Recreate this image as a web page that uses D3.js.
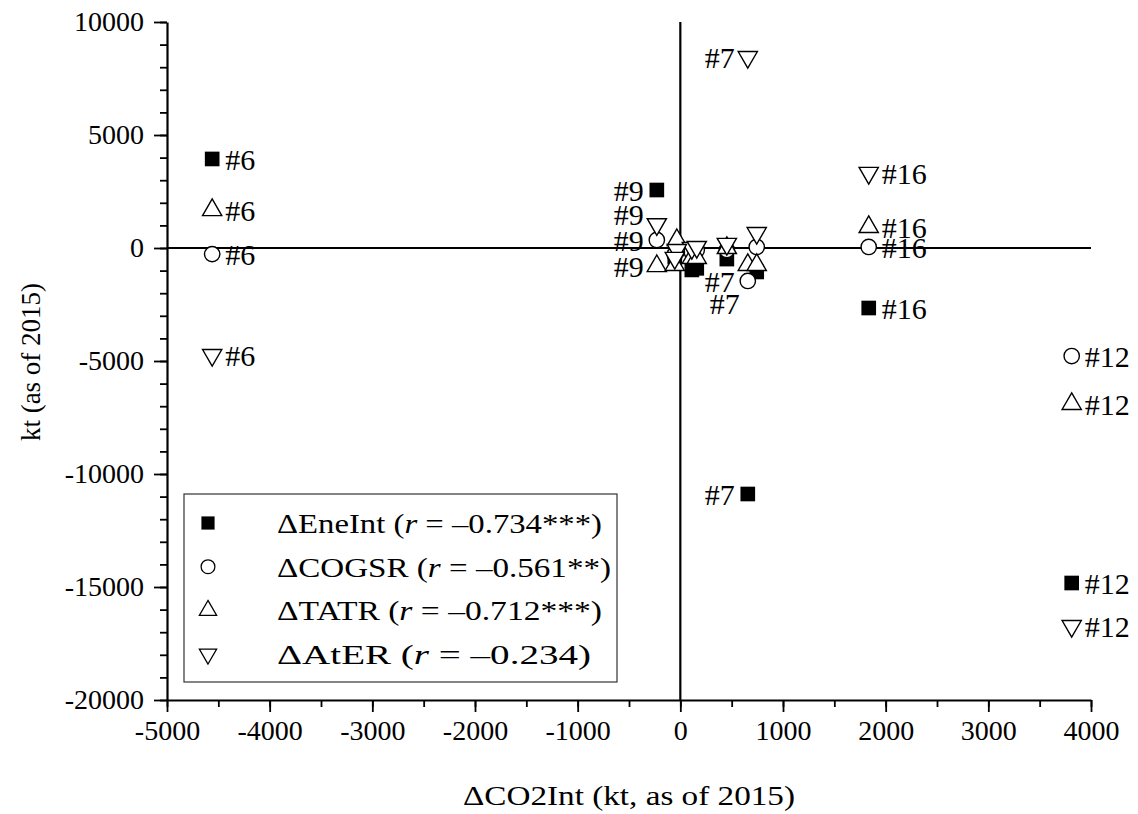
<!DOCTYPE html>
<html>
<head>
<meta charset="utf-8">
<script src="https://cdn.jsdelivr.net/npm/d3@7"></script>
<style>
  body { margin: 0; background: #fff; }
  svg, svg text { font-family: "Liberation Serif", Tinos, "Times New Roman", "DejaVu Serif", serif; }
  .axis path, .axis line { stroke: #000; }
  .axis text { font-size: 28px; fill: #000; }
</style>
</head>
<body>
<script>
// districts (x = ΔCO2Int); only some carry a label in the figure
const districts = ["#6", "#7", "#9", "#12", "#16", "a", "b", "c", "d", "e", "f"];
const dCO2Int   = [-4560, 657, -229, 3812, 1835, 744, 453, 112, -34, -54, 160];
const eneInt    = [3940, -10885, 2566, -14823, -2655, -1060, -490, -970, -50, -400, -900];
const cogsr     = [-270, -1460, 355, -4780, 45, 45, -90, -180, 0, -300, -90];
const tatr      = [1680, -750, -800, -6900, 930, -750, 0, -440, 350, -750, -440];
const ater      = [-4740, 8450, 1050, -16730, 3320, 660, 180, 0, -90, -440, 45];

const seriesNames = ["EneInt", "COGSR", "TATR", "AtER"];
const seriesR = ["–0.734***", "–0.561**", "–0.712***", "–0.234"];
const xTicks = [-5000, -4000, -3000, -2000, -1000, 0, 1000, 2000, 3000, 4000];
const yTicks = [-20000, -15000, -10000, -5000, 0, 5000, 10000];

// which point labels are shown: [district, series, side]
const pointLabels = [
  ["#6", "EneInt", "r"], ["#6", "TATR", "r"], ["#6", "COGSR", "r"], ["#6", "AtER", "r"],
  ["#12", "COGSR", "r"], ["#12", "TATR", "r"], ["#12", "EneInt", "r"], ["#12", "AtER", "r"],
  ["#16", "AtER", "r"], ["#16", "TATR", "r"], ["#16", "COGSR", "r"], ["#16", "EneInt", "r"],
  ["#9", "EneInt", "l"], ["#9", "AtER", "lu"], ["#9", "COGSR", "l"], ["#9", "TATR", "l"],
  ["#7", "AtER", "l"], ["#7", "EneInt", "l"], ["#7", "COGSR", "l"], ["#7", "TATR", "lb"]
];

const W = 1138, H = 814;
const m = {left: 167, top: 22, right: 47, bottom: 114};
const svg = d3.select("body").append("svg").attr("width", W).attr("height", H);

const x = d3.scaleLinear().domain([-5000, 4000]).range([m.left, W - m.right]);
const y = d3.scaleLinear().domain([-20000, 10000]).range([H - m.bottom, m.top]);

const values = {EneInt: eneInt, COGSR: cogsr, TATR: tatr, AtER: ater};

const symbolFor = {
  EneInt: d3.symbol().type(d3.symbolSquare).size(215),
  COGSR: d3.symbol().type(d3.symbolCircle).size(185),
  TATR: d3.symbol().type(d3.symbolTriangle).size(160),
  AtER: d3.symbol().type(d3.symbolTriangle).size(160)
};
const styleSym = (sel, s) => {
  sel.attr("d", symbolFor[s]())
    .attr("fill", s === "EneInt" ? "#000" : "#fff")
    .attr("stroke", s === "EneInt" ? "none" : "#000")
    .attr("stroke-width", 1.4);
};
const rot = s => s === "AtER" ? " rotate(180)" : "";

// axes
svg.append("g").attr("class", "axis").attr("transform", `translate(${m.left},0)`)
  .call(d3.axisLeft(y).ticks(30).tickSize(7).tickFormat("").tickSizeOuter(0))
  .call(g => g.selectAll("line").attr("stroke-width", 1.8))
  .select(".domain").remove();
svg.append("g").attr("class", "axis").attr("transform", `translate(${m.left},0)`)
  .call(d3.axisLeft(y).tickValues(yTicks).tickSize(13).tickSizeOuter(0).tickPadding(10).tickFormat(d => String(d)))
  .call(g => g.selectAll("line").attr("stroke-width", 1.8))
  .call(g => g.select(".domain").attr("stroke-width", 2.2));

svg.append("g").attr("class", "axis").attr("transform", `translate(0,${H - m.bottom})`)
  .call(d3.axisBottom(x).ticks(18).tickSize(7).tickFormat("").tickSizeOuter(0))
  .call(g => g.selectAll("line").attr("stroke-width", 1.8))
  .select(".domain").remove();
svg.append("g").attr("class", "axis").attr("transform", `translate(0,${H - m.bottom})`)
  .call(d3.axisBottom(x).tickValues(xTicks).tickSize(12).tickSizeOuter(0).tickPadding(8).tickFormat(d => String(d)))
  .call(g => g.selectAll("line").attr("stroke-width", 1.8))
  .call(g => g.select(".domain").attr("stroke-width", 2.2));
svg.selectAll(".axis").attr("font-family", null);

// zero lines
svg.append("line").attr("x1", x(-5000)).attr("x2", x(4000)).attr("y1", y(0)).attr("y2", y(0))
  .attr("stroke", "#000").attr("stroke-width", 2.2);
svg.append("line").attr("x1", x(0)).attr("x2", x(0)).attr("y1", y(10000)).attr("y2", y(-20000))
  .attr("stroke", "#000").attr("stroke-width", 2.2);

// points
["EneInt", "COGSR", "TATR", "AtER"].forEach(s => {
  svg.append("g").selectAll("path")
    .data(dCO2Int.map((d, i) => ({x: d, y: values[s][i]})))
    .enter().append("path")
    .attr("transform", d => `translate(${x(d.x)},${y(d.y)})${rot(s)}`)
    .call(sel => styleSym(sel, s));
});

// point labels
const labelShift = {r: [13, 0], l: [-13, 0], lu: [-13, -10], lb: [-8, 38]};
svg.append("g").selectAll("text")
  .data(pointLabels)
  .enter().append("text")
  .attr("x", d => x(dCO2Int[districts.indexOf(d[0])]) + labelShift[d[2]][0])
  .attr("y", d => y(values[d[1]][districts.indexOf(d[0])]) + labelShift[d[2]][1])
  .attr("dy", "0.36em")
  .attr("text-anchor", d => d[2] === "r" ? "start" : "end")
  .attr("font-size", 30)
  .text(d => d[0]);

// legend
const legend = svg.append("g");
legend.append("rect").attr("x", 184).attr("y", 494).attr("width", 433).attr("height", 188)
  .attr("fill", "#fff").attr("stroke", "#333").attr("stroke-width", 1.2);
const legendWidths = [325, 334, 325, 314];
seriesNames.forEach((s, i) => {
  const ly = 523 + i * 43.7;
  legend.append("path")
    .attr("transform", `translate(208,${ly})${rot(s)} scale(0.9)`)
    .call(sel => styleSym(sel, s));
  const t = legend.append("text").attr("x", 277).attr("y", ly).attr("dy", "0.36em").attr("font-size", 28)
    .attr("textLength", legendWidths[i]).attr("lengthAdjust", "spacingAndGlyphs");
  t.append("tspan").text("Δ" + s + " (");
  t.append("tspan").attr("font-style", "italic").text("r");
  t.append("tspan").text(" = " + seriesR[i] + ")");
});

// axis titles
svg.append("text").attr("x", 629).attr("y", 795).attr("dy", "0.36em").attr("text-anchor", "middle")
  .attr("font-size", 28).attr("textLength", 332).attr("lengthAdjust", "spacingAndGlyphs")
  .text("ΔCO2Int (kt, as of 2015)");
svg.append("text").attr("transform", "translate(30,362) rotate(-90)").attr("dy", "0.36em")
  .attr("text-anchor", "middle").attr("font-size", 27).text("kt (as of 2015)");
</script>
</body>
</html>
